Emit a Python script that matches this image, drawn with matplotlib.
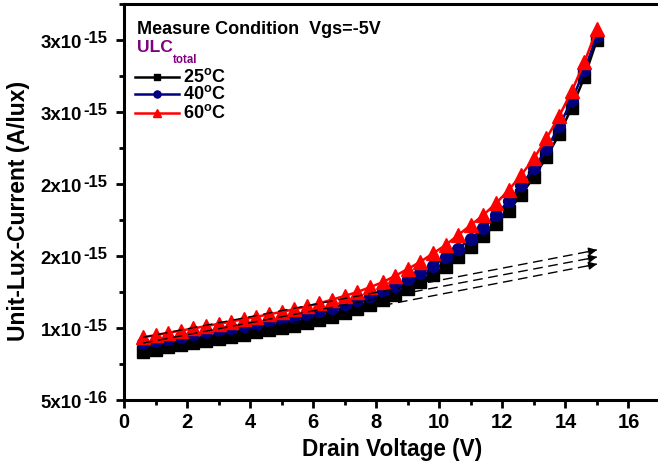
import matplotlib
matplotlib.use("Agg")
import matplotlib.pyplot as plt
from matplotlib.lines import Line2D
from matplotlib.ticker import MultipleLocator, FixedLocator

plt.rcParams.update({
    "font.family": ["Liberation Sans", "DejaVu Sans"],
    "font.weight": "bold",
    "mathtext.fontset": "custom",
    "mathtext.rm": "Liberation Sans:bold",
    "mathtext.bf": "Liberation Sans:bold",
    "mathtext.it": "Liberation Sans:bold",
    "mathtext.default": "bf",
})

# ── data (current in units of 1e-15 A/lux) ─────────────────────────────────────
drain_v = [0.6, 1.0, 1.4, 1.8, 2.2, 2.6, 3.0, 3.4, 3.8, 4.2, 4.6, 5.0, 5.4,
           5.8, 6.2, 6.6, 7.0, 7.4, 7.8, 8.2, 8.6, 9.0, 9.4, 9.8, 10.2, 10.6,
           11.0, 11.4, 11.8, 12.2, 12.6, 13.0, 13.4, 13.8, 14.2, 14.6, 15.0]

ulc_25 = [0.835, 0.850, 0.865, 0.880, 0.895, 0.910, 0.924, 0.939, 0.954, 0.969,
          0.984, 1.000, 1.016, 1.033, 1.055, 1.078, 1.104, 1.133, 1.162, 1.194,
          1.230, 1.274, 1.320, 1.368, 1.426, 1.490, 1.560, 1.640, 1.720, 1.815,
          1.925, 2.050, 2.185, 2.345, 2.530, 2.740, 3.000]
ulc_40 = [0.895, 0.910, 0.925, 0.940, 0.955, 0.970, 0.985, 1.000, 1.015, 1.030,
          1.046, 1.062, 1.079, 1.097, 1.116, 1.138, 1.164, 1.192, 1.220, 1.255,
          1.292, 1.337, 1.384, 1.432, 1.492, 1.552, 1.620, 1.692, 1.785, 1.880,
          1.990, 2.110, 2.240, 2.400, 2.580, 2.790, 3.030]
ulc_60 = [0.935, 0.951, 0.966, 0.982, 0.997, 1.013, 1.029, 1.045, 1.061, 1.078,
          1.095, 1.112, 1.130, 1.150, 1.172, 1.197, 1.223, 1.250, 1.283, 1.318,
          1.362, 1.410, 1.460, 1.518, 1.576, 1.646, 1.715, 1.785, 1.866, 1.958,
          2.063, 2.178, 2.317, 2.470, 2.645, 2.845, 3.075]

# linear (ohmic) extrapolation lines: start/end values
fit_x = [0.6, 15.0]
fit_25 = [0.835, 1.444]
fit_40 = [0.895, 1.493]
fit_60 = [0.935, 1.542]

labels = ["25$^{o}$C", "40$^{o}$C", "60$^{o}$C"]
y_ticks = [0.5, 1.0, 1.5, 2.0, 2.5, 3.0]
y_tick_base = ["5x10", "1x10", "2x10", "2x10", "3x10", "3x10"]
y_tick_exp = ["-16", "-15", "-15", "-15", "-15", "-15"]

fig = plt.figure(figsize=(6.58, 4.63), dpi=100)
ax = fig.add_axes([124 / 658, 1 - 400 / 463, 536 / 658, 396 / 463])

series = [
    (ulc_25, "black", "s", 8),
    (ulc_40, "#000080", "o", 8.5),
    (ulc_60, "#ff0000", "^", 9.5),
]
for vals, col, mk, ms in series:
    ax.plot(drain_v, vals, color=col, lw=1.8, marker=mk, ms=ms,
            mec=col, mfc=col, zorder=3)

for fit in (fit_25, fit_40, fit_60):
    ax.plot(fit_x, fit, color="black", lw=1.0, ls=(0, (7, 4)), zorder=4)
    slope = (fit[1] - fit[0]) / (fit_x[1] - fit_x[0])
    ax.annotate("", xy=(fit_x[1], fit[1]),
                xytext=(fit_x[1] - 0.3, fit[1] - 0.3 * slope),
                arrowprops=dict(arrowstyle="-|>", color="black", lw=1.0,
                                mutation_scale=12, shrinkA=0, shrinkB=0),
                zorder=5)

ax.set_xlim(0, 17)
ax.set_ylim(0.5, 3.25)
ax.xaxis.set_major_locator(MultipleLocator(2))
ax.xaxis.set_minor_locator(MultipleLocator(1))
ax.yaxis.set_major_locator(FixedLocator(y_ticks))
ax.yaxis.set_minor_locator(MultipleLocator(0.25))
ax.set_yticklabels([])

# y tick labels in Origin style: large superscript exponent
ytr = ax.get_yaxis_transform()
for yv, base, ex in zip(y_ticks, y_tick_base, y_tick_exp):
    ax.annotate(base, xy=(0, yv), xycoords=ytr, xytext=(-30.2, -5.8),
                textcoords="offset points", ha="right", va="baseline",
                fontsize=13.4, fontweight="bold", annotation_clip=False)
    ax.annotate(ex, xy=(0, yv), xycoords=ytr, xytext=(-29.6, -2.4),
                textcoords="offset points", ha="left", va="baseline",
                fontsize=12, fontweight="bold", annotation_clip=False)

for s in ("left", "bottom", "top"):
    ax.spines[s].set_linewidth(2.2)
ax.spines["right"].set_visible(False)
ax.tick_params(which="major", direction="out", length=6, width=2,
               labelsize=14.5, pad=3.6, top=False, right=False)
ax.tick_params(which="minor", direction="out", length=3.5, width=2,
               top=False, right=False)

ax.set_xlabel("Drain Voltage (V)", fontsize=16.3, fontweight="bold")
ax.set_ylabel("Unit-Lux-Current (A/lux)", fontsize=16.5, fontweight="bold")
ax.xaxis.set_label_coords(0.5, -0.096)
ax.yaxis.set_label_coords(-0.176, 0.477)

ax.text(0.0238, 0.935, "Measure Condition  Vgs=-5V", transform=ax.transAxes,
        fontsize=13, fontweight="bold", va="center", ha="left")
ax.text(0.0243, 0.890, "ULC", transform=ax.transAxes,
        fontsize=12.6, fontweight="bold", va="center", ha="left", color="#800080")
ax.text(0.0918, 0.8737, "total", transform=ax.transAxes,
        fontsize=8.3, fontweight="bold", va="top", ha="left", color="#800080")

# legend rows (handle line + small marker + label)
legend_rows = [0.8144, 0.7727, 0.724]
for (vals, col, mk, ms), lab, ry in zip(series, labels, legend_rows):
    ax.add_line(Line2D([0.0206, 0.103], [ry, ry], transform=ax.transAxes,
                       color=col, lw=1.8, zorder=6))
    ax.add_line(Line2D([0.062], [ry], transform=ax.transAxes, color=col,
                       marker=mk, ms=ms * 0.6, mec=col, mfc=col, lw=0, zorder=6))
    ax.text(0.1105, ry, lab, transform=ax.transAxes, fontsize=13,
            fontweight="bold", va="center", ha="left")

fig.savefig("out.png", dpi=100)
